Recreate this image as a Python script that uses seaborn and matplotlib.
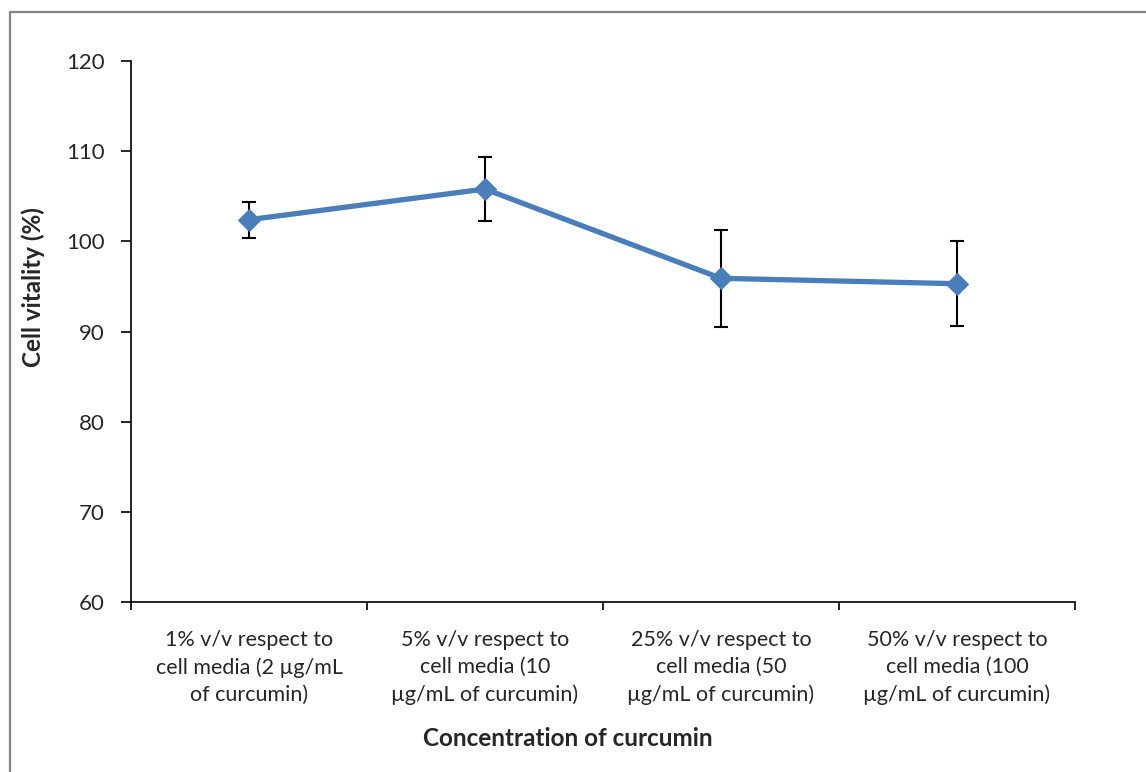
import matplotlib
matplotlib.use("Agg")
import matplotlib.pyplot as plt
from matplotlib.lines import Line2D
import seaborn as sns
import pandas as pd
import numpy as np

categories = [
    "1% v/v respect to\ncell media (2 µg/mL\nof curcumin)",
    "5% v/v respect to\ncell media (10\nµg/mL of curcumin)",
    "25% v/v respect to\ncell media (50\nµg/mL of curcumin)",
    "50% v/v respect to\ncell media (100\nµg/mL of curcumin)",
]
vitality = [102.4, 105.8, 95.9, 95.3]
errors = [2.0, 3.5, 5.4, 4.7]
y_ticks = [60, 70, 80, 90, 100, 110, 120]

sns.set_theme(style="white")
plt.rcParams['font.family'] = ['Lato', 'DejaVu Sans']

W, H = 1146, 772
fig = plt.figure(figsize=(W / 100, H / 100), dpi=100)
ax = fig.add_axes([131 / W, 1 - 602 / H, (1075 - 131) / W, (602 - 61) / H])

pos = np.arange(len(categories))
df = pd.DataFrame({"pos": pos, "vitality": vitality})
color = "#4A7EBB"

ax.errorbar(pos, vitality, yerr=errors, fmt="none", ecolor="black",
            elinewidth=1.5, capsize=5, capthick=1.5, zorder=2)
sns.lineplot(data=df, x="pos", y="vitality", ax=ax, color=color,
             linewidth=3.8, marker="D", markersize=11,
             markeredgecolor=color, zorder=3)

ax.set_xlim(-0.5, len(categories) - 0.5)
ax.set_ylim(60, 120)
ax.set_yticks(y_ticks)
ax.set_yticklabels([str(v) for v in y_ticks], fontsize=16)

ax.set_xticks(np.arange(len(categories) + 1) - 0.5)
ax.set_xticklabels([])
ax.set_xticks(pos, minor=True)
ax.set_xticklabels(categories, minor=True, fontsize=15.5, linespacing=1.45)
ax.tick_params(axis="x", which="minor", length=0, pad=20)
ax.tick_params(axis="x", which="major", direction="out", length=6, width=1.2, color="black", bottom=True)
ax.tick_params(axis="y", direction="out", length=7, width=1.2, color="black", left=True, pad=12)

for s in ["top", "right"]:
    ax.spines[s].set_visible(False)
for s in ["left", "bottom"]:
    ax.spines[s].set_color("black")
    ax.spines[s].set_linewidth(1.2)

ax.set_xlabel("")
ax.set_ylabel("")
fig.text(568 / W, 1 - 738 / H, "Concentration of curcumin", ha="center", va="center",
         fontsize=17.5, fontweight="bold")
fig.text(33 / W, 1 - 287 / H, "Cell vitality (%)", ha="center", va="center",
         rotation=90, fontsize=17.5, fontweight="bold")

border = "#868686"
fig.add_artist(Line2D([9.5 / W, 1], [1 - 12 / H, 1 - 12 / H], transform=fig.transFigure,
                      color=border, linewidth=1.6))
fig.add_artist(Line2D([9.5 / W, 9.5 / W], [0, 1 - 12 / H], transform=fig.transFigure,
                      color=border, linewidth=1.6))

fig.savefig("out.png", dpi=100, facecolor="white")
